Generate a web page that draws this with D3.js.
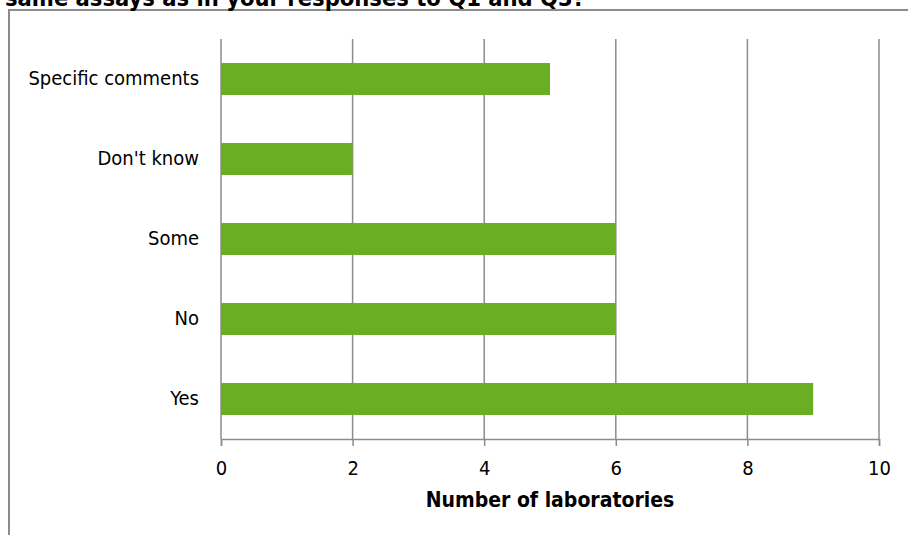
<!DOCTYPE html>
<html>
<head>
<meta charset="utf-8">
<script src="https://cdn.jsdelivr.net/npm/d3@7"></script>
<style>
  html, body { margin: 0; padding: 0; background: #fff; }
  svg { display: block; }
</style>
</head>
<body>
<svg id="chart" width="908" height="535"></svg>
<script>
// Responses, listed bottom to top
const categories = ["Yes", "No", "Some", "Don't know", "Specific comments"];
const counts = [9, 6, 6, 2, 5];
const xTicks = [0, 2, 4, 6, 8, 10];
const titleText = "same assays as in your responses to Q1 and Q3?";
const xAxisTitle = "Number of laboratories";

const svg = d3.select("#chart");
const labelFont = "Tahoma, 'DejaVu Sans Condensed', 'DejaVu Sans', sans-serif";

const plot = { left: 221, right: 879, top: 39, bottom: 439 };

// Outer frame (clipped by the page edges on right and bottom)
svg.append("rect")
  .attr("x", 9).attr("y", 10)
  .attr("width", 920).attr("height", 560)
  .attr("fill", "none").attr("stroke", "#8c8c8c").attr("stroke-width", 2);

// Heading, partly above the visible area
svg.append("text")
  .attr("x", 5).attr("y", 6)
  .attr("font-family", labelFont)
  .attr("font-weight", "bold").attr("font-size", 23.5)
  .attr("fill", "#000")
  .text(titleText);

const x = d3.scaleLinear().domain([0, 10]).range([plot.left, plot.right]);
const y = d3.scaleBand()
  .domain(categories.slice().reverse())
  .range([plot.top, plot.bottom])
  .paddingInner(0.6).paddingOuter(0.3);

// Vertical gridlines
svg.append("g").selectAll("line")
  .data(xTicks)
  .join("line")
  .attr("x1", d => x(d)).attr("x2", d => x(d))
  .attr("y1", plot.top).attr("y2", plot.bottom)
  .attr("stroke", "#8c8c8c").attr("stroke-width", 1.5);

// Bars
svg.append("g").selectAll("rect")
  .data(categories.map((c, i) => ({ c, v: counts[i] })))
  .join("rect")
  .attr("x", x(0))
  .attr("y", d => y(d.c))
  .attr("width", d => x(d.v) - x(0))
  .attr("height", y.bandwidth())
  .attr("fill", "#6aae24");

// X axis
const xAxis = svg.append("g")
  .attr("transform", `translate(0,${plot.bottom})`)
  .call(d3.axisBottom(x).tickValues(xTicks).tickSize(7).tickPadding(15));
xAxis.select(".domain").attr("stroke", "#8c8c8c").attr("stroke-width", 1.5);
xAxis.selectAll(".tick line").attr("stroke", "#8c8c8c").attr("stroke-width", 1.5);
xAxis.selectAll(".tick text")
  .attr("font-family", labelFont).attr("font-size", 20).attr("fill", "#000");

// Y axis (labels only; the axis line is the zero gridline)
const yAxis = svg.append("g")
  .attr("transform", `translate(${plot.left},0)`)
  .call(d3.axisLeft(y).tickSize(0).tickPadding(22));
yAxis.select(".domain").remove();
yAxis.selectAll(".tick text")
  .attr("font-family", labelFont).attr("font-size", 20).attr("fill", "#000");

// X axis title
svg.append("text")
  .attr("x", 550).attr("y", 507)
  .attr("text-anchor", "middle")
  .attr("font-family", labelFont)
  .attr("font-weight", "bold").attr("font-size", 21)
  .attr("fill", "#000")
  .text(xAxisTitle);
</script>
</body>
</html>
